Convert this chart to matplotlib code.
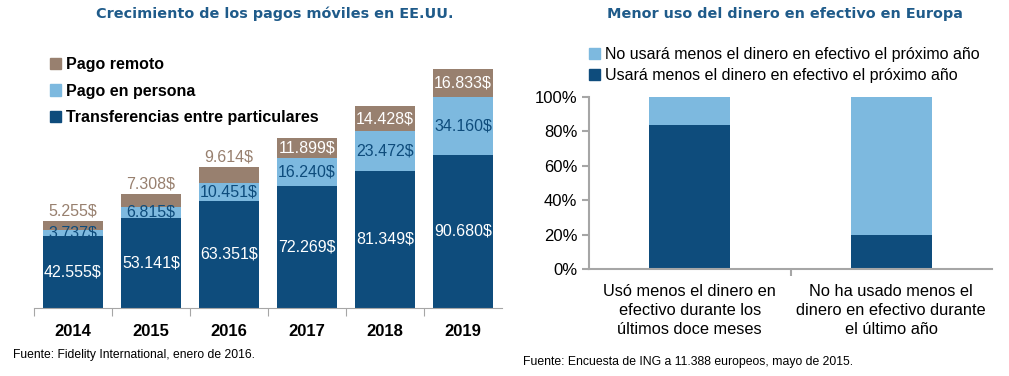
import matplotlib
matplotlib.use("Agg")
import matplotlib.pyplot as plt
from matplotlib.patches import Patch

# datos grafico izquierdo (EE.UU.)
years = ["2014", "2015", "2016", "2017", "2018", "2019"]
transferencias = [42555, 53141, 63351, 72269, 81349, 90680]
persona = [3737, 6815, 10451, 16240, 23472, 34160]
remoto = [5255, 7308, 9614, 11899, 14428, 16833]

# datos grafico derecho (Europa)
grupos = ["Usó menos el dinero en\nefectivo durante los\núltimos doce meses",
          "No ha usado menos el\ndinero en efectivo durante\nel último año"]
usara_menos = [84, 20]
no_usara_menos = [16, 80]

c_dark = "#0e4c7c"
c_light = "#7db9df"
c_brown = "#98806f"
c_title = "#1f5b8a"
c_axis = "#a6a6a6"
narrow = ["Liberation Sans Narrow", "Liberation Sans", "DejaVu Sans"]

def fmt(v):
    return f"{v:,}".replace(",", ".") + "$"

fig = plt.figure(figsize=(10.09, 3.76), dpi=100)
W, H = 1009, 376

# ---------- izquierda ----------
ax = fig.add_axes([34 / W, (H - 308) / H, 468 / W, 268 / H])
x = list(range(len(years)))
bw = 0.77
ax.bar(x, transferencias, bw, color=c_dark)
bot2 = transferencias
ax.bar(x, persona, bw, bottom=bot2, color=c_light)
bot3 = [a + b for a, b in zip(transferencias, persona)]
ax.bar(x, remoto, bw, bottom=bot3, color=c_brown)
ax.set_xlim(-0.5, len(years) - 0.5)
ax.set_ylim(0, 158600)

for i in x:
    ax.text(i, transferencias[i] / 2, fmt(transferencias[i]), ha="center", va="center",
            color="white", fontsize=11.5, family=narrow)
    ax.text(i, bot2[i] + persona[i] / 2, fmt(persona[i]), ha="center", va="center",
            color=c_dark, fontsize=11.5, family=narrow)
    top = bot3[i] + remoto[i]
    if i < 3:
        ax.text(i, top + 1500, fmt(remoto[i]), ha="center", va="bottom",
                color=c_brown, fontsize=11.5, family=narrow)
    else:
        ax.text(i, bot3[i] + remoto[i] / 2, fmt(remoto[i]), ha="center", va="center",
                color="white", fontsize=11.5, family=narrow)

for s in ["top", "right", "left"]:
    ax.spines[s].set_visible(False)
ax.spines["bottom"].set_color(c_axis)
ax.set_yticks([])
ax.set_xticks([i - 0.5 for i in x], minor=False)
ax.set_xticklabels([])
ax.tick_params(axis="x", which="major", length=6, color=c_axis, direction="out")
for i in x:
    ax.text(i, -0.088, years[i], transform=ax.get_xaxis_transform(), ha="center", va="center",
            fontsize=12, fontweight="bold", family=narrow)

ax.legend(handles=[Patch(color=c_brown, label="Pago remoto"),
                   Patch(color=c_light, label="Pago en persona"),
                   Patch(color=c_dark, label="Transferencias entre particulares")],
          loc="upper left", bbox_to_anchor=(0.034, 0.935), frameon=False,
          prop={"family": narrow, "size": 11.5, "weight": "bold"},
          handlelength=0.7, handleheight=0.7, handletextpad=0.3, labelspacing=0.7,
          borderaxespad=0, borderpad=0)

fig.text(275 / W, 1 - 14 / H, "Crecimiento de los pagos móviles en EE.UU.", ha="center",
         va="center", color=c_title, fontsize=10.4, fontweight="bold", family="DejaVu Sans")
fig.text(13 / W, 1 - 355 / H, "Fuente: Fidelity International, enero de 2016.", ha="left",
         va="center", fontsize=8.7, family=narrow)

# ---------- derecha ----------
ax2 = fig.add_axes([589 / W, (H - 269) / H, 403 / W, 172 / H])
x2 = [0, 1]
ax2.bar(x2, usara_menos, 0.4, color=c_dark)
ax2.bar(x2, no_usara_menos, 0.4, bottom=usara_menos, color=c_light)
ax2.set_xlim(-0.5, 1.5)
ax2.set_ylim(0, 100)
ax2.set_yticks([0, 20, 40, 60, 80, 100])
ax2.set_yticklabels([f"{v}%" for v in [0, 20, 40, 60, 80, 100]], family=narrow, fontsize=12)
ax2.set_xticks([0.5])
ax2.set_xticklabels([])
for s in ["top", "right"]:
    ax2.spines[s].set_visible(False)
for s in ["left", "bottom"]:
    ax2.spines[s].set_color(c_axis)
    ax2.spines[s].set_linewidth(1.5)
ax2.tick_params(axis="both", length=5, color=c_axis, width=1.5)
for i in x2:
    ax2.text(i, -0.085, grupos[i], transform=ax2.get_xaxis_transform(), ha="center", va="top",
             fontsize=11.8, family=narrow, linespacing=1.35)

ax2.legend(handles=[Patch(color=c_light, label="No usará menos el dinero en efectivo el próximo año"),
                    Patch(color=c_dark, label="Usará menos el dinero en efectivo el próximo año")],
           loc="lower left", bbox_to_anchor=(0.0, 1.08), frameon=False,
           prop={"family": narrow, "size": 11.5},
           handlelength=0.7, handleheight=0.7, handletextpad=0.3, labelspacing=0.37,
           borderaxespad=0, borderpad=0)

fig.text(785 / W, 1 - 14 / H, "Menor uso del dinero en efectivo en Europa", ha="center",
         va="center", color=c_title, fontsize=10.4, fontweight="bold", family="DejaVu Sans")
fig.text(523 / W, 1 - 362 / H, "Fuente: Encuesta de ING a 11.388 europeos, mayo de 2015.",
         ha="left", va="center", fontsize=8.8, family=narrow)

fig.savefig("out.png", dpi=100)
